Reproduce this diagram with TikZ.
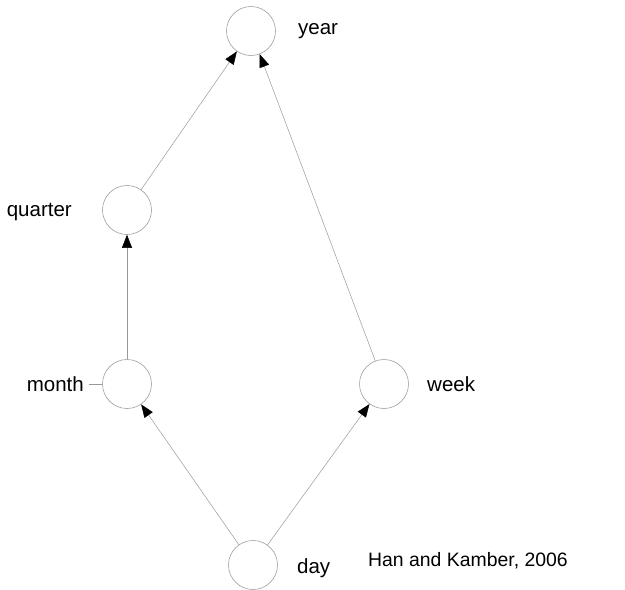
\documentclass[tikz,border=0pt]{standalone}
\usepackage{fontspec}
\setmainfont{Liberation Sans}
\usetikzlibrary{arrows.meta}
\begin{document}
\begin{tikzpicture}[x=1pt,y=-1pt,
 lvl/.style={circle,draw=gray!75,line width=0.6pt,minimum size=49pt,inner sep=0pt},
 lbl/.style={font=\fontsize{20.5}{24}\selectfont,inner sep=0pt},
 edge/.style={draw=gray!80,line width=0.5pt,-{Triangle[length=13pt,width=10pt,color=black]}}]
\useasboundingbox (0,0) rectangle (625,590);
\node[lvl] (year) at (251,31) {};
\node[lvl] (quarter) at (127,210) {};
\node[lvl] (month) at (127,384) {};
\node[lvl] (week) at (384,384) {};
\node[lvl] (day) at (253,565) {};
\node[lbl,anchor=west] (tyear) at (298,31) {year};
\node[lbl,anchor=east] (tquarter) at (72,212) {quarter};
\node[lbl,anchor=east] (tmonth) at (84,384) {month};
\node[lbl,anchor=west] (tweek) at (427,384) {week};
\node[lbl,anchor=west] (tday) at (297,568) {day};
\node[lbl,anchor=west,font=\fontsize{19.4}{23}\selectfont] (credit) at (368,561) {Han and Kamber, 2006};
\coordinate (stub) at (89,384);
\draw[gray!80,line width=0.5pt] (stub) -- (month.west);
\draw[edge] (day) -- (month);
\draw[edge] (day) -- (week);
\draw[edge] (month) -- (quarter);
\draw[edge] (quarter) -- (year);
\draw[edge] (week) -- (year);
\end{tikzpicture}
\end{document}
